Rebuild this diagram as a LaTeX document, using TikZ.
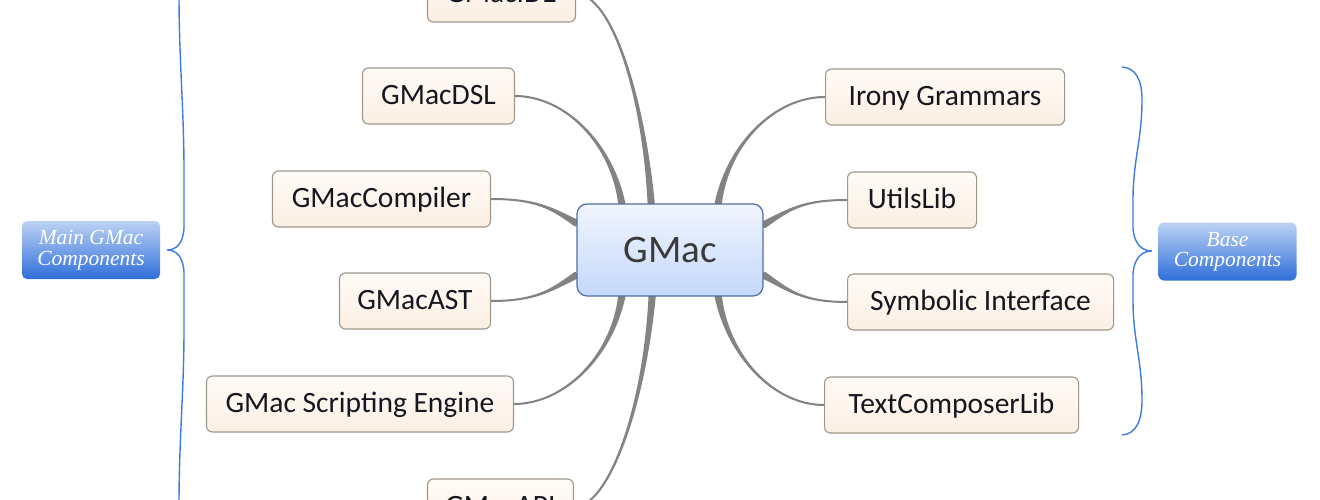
\documentclass[tikz,border=0pt]{standalone}
\usepackage{fontspec}
\setmainfont{Carlito}
\newfontfamily\tagfont{Liberation Serif}
\usetikzlibrary{calc,backgrounds}

\definecolor{leafedge}{HTML}{A0968A}
\definecolor{leaftop}{HTML}{FFFBF7}
\definecolor{leafbot}{HTML}{FCEFE3}
\definecolor{leaftext}{HTML}{16161E}
\definecolor{hubedge}{HTML}{4F6EA3}
\definecolor{hubtop}{HTML}{F0F5FE}
\definecolor{hubbot}{HTML}{C4D8FA}
\definecolor{hubtext}{HTML}{3A3A3A}
\definecolor{tagtop}{HTML}{BCD2F4}
\definecolor{tagbot}{HTML}{2F6EDA}
\definecolor{bracecol}{HTML}{3C7BE0}
\definecolor{branchcol}{HTML}{838383}

\tikzset{
    leaf/.style={draw=leafedge, line width=1.1pt, rounded corners=6pt,
        top color=leaftop, bottom color=leafbot, minimum height=56pt,
        inner xsep=6pt, text height=19pt, text depth=2pt, text=leaftext,
        font=\fontsize{29.5}{30}\selectfont},
    hub/.style={draw=hubedge, line width=1.2pt, rounded corners=10pt,
        top color=hubtop, bottom color=hubbot, minimum width=186pt,
        minimum height=92pt, text=hubtext, font=\fontsize{39}{40}\selectfont},
    tag/.style={rounded corners=5pt, top color=tagtop, bottom color=tagbot,
        minimum width=138pt, minimum height=58pt, inner sep=0pt, text=white,
        align=center, font=\tagfont\itshape\fontsize{21.5}{20.5}\selectfont},
    branch/.style={fill=branchcol, draw=branchcol, line width=2pt, line join=round},
    brace/.style={draw=bracecol, line width=1.4pt}
}

\begin{document}
\begin{tikzpicture}[x=1pt, y=-1pt]
    \useasboundingbox (0,0) rectangle (1320,500);

    % Hub
    \node[hub] (gmac) at (670,250) {GMac};

    % Main components
    \node[leaf, minimum width=148pt, anchor=east] (ide) at (576,-6) {GMacIDE};
    \node[leaf, minimum width=152pt, anchor=east] (dsl) at (515,96) {GMacDSL};
    \node[leaf, minimum width=218pt, anchor=east] (comp) at (491,199) {GMacCompiler};
    \node[leaf, minimum width=151pt, anchor=east] (ast) at (491,301) {GMacAST};
    \node[leaf, minimum width=307pt, anchor=east] (engine) at (514,404) {GMac Scripting Engine};
    \node[leaf, minimum width=146pt, anchor=east] (api) at (574,507) {GMacAPI};

    % Base components
    \node[leaf, minimum width=239pt, anchor=west] (irony) at (825,97) {Irony Grammars};
    \node[leaf, minimum width=129pt, anchor=west] (utils) at (847,200) {UtilsLib};
    \node[leaf, minimum width=266pt, anchor=west] (symb) at (847,302) {Symbolic Interface};
    \node[leaf, minimum width=254pt, anchor=west] (textc) at (824,405) {TextComposerLib};

    % Group tags
    \node[tag] (main) at (91,250) {Main GMac\\Components};
    \node[tag] (base) at (1227.5,251.5) {Base\\Components};

    % Braces
    \draw[brace] (195,-50) .. controls (183,-46) and (179,-30) .. (179,-5)
        .. controls (179,60) and (184,110) .. (184,170) -- (184,228)
        .. controls (183,244) and (176,250) .. (167,250)
        .. controls (176,250) and (183,256) .. (184,272) -- (184,330)
        .. controls (184,390) and (179,440) .. (179,505)
        .. controls (179,530) and (183,546) .. (195,550);
    \draw[brace] (1122,67) .. controls (1136,68) and (1142,80) .. (1142,100)
        .. controls (1142,140) and (1133,160) .. (1133,200) -- (1133,228)
        .. controls (1134,244) and (1142,251) .. (1152,251)
        .. controls (1142,251) and (1134,258) .. (1133,274) -- (1133,300)
        .. controls (1133,340) and (1142,360) .. (1142,400)
        .. controls (1142,421) and (1136,434) .. (1122,435);

    % Branches
    \begin{scope}[on background layer]
        \fill[white] (0,0) rectangle (1320,500);
        \foreach \src/\angl/\ca/\cb in {
            ide.east/112/{35,0}/{-8,-110}, dsl.east/136/{50,0}/{-10,-60},
            comp.east/164/{45,0}/{-25,-15}, ast.east/195/{45,0}/{-25,15},
            engine.east/224/{50,0}/{-10,60}, api.east/249/{35,0}/{-8,110},
            irony.west/44/{-50,0}/{10,-60}, utils.west/15/{-45,0}/{25,-15},
            symb.west/345/{-45,0}/{25,15}, textc.west/316/{-50,0}/{10,60}} {
            \path (\src) ++(\ca) coordinate (c1);
            \path (gmac.\angl) coordinate (e) ++(\cb) coordinate (c2);
            \fill[branch] (\src) .. controls (c1) and (c2) .. ($(e)!2.6pt!90:(c2)$)
                -- ($(e)!2.6pt!-90:(c2)$) .. controls (c2) and (c1) .. (\src) -- cycle;
        }
    \end{scope}
\end{tikzpicture}
\end{document}
